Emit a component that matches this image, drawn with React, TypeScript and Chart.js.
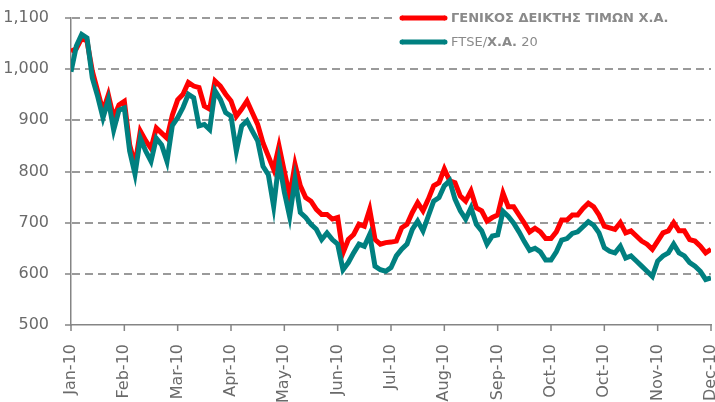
import React, { useEffect, useRef } from "react";
import { Chart, registerables } from "chart.js";

Chart.register(...registerables);

const tickLabels = ["Jan-10", "Feb-10", "Mar-10", "Apr-10", "May-10", "Jun-10", "Jul-10", "Aug-10", "Sep-10", "Oct-10", "Oct-10", "Nov-10", "Dec-10"];
const pointsPerTick = 10;

const generalIndex = [
  1035, 1040, 1060, 1055, 996, 957, 918, 950, 905, 930, 937,
  852, 813, 879, 860, 845, 885, 875, 865, 910, 940,
  951, 974, 967, 964, 928, 922, 977, 967, 951, 938,
  908, 922, 938, 915, 892, 856, 830, 804, 850, 800,
  752, 814, 772, 749, 742, 726, 716, 716, 707, 710,
  641, 667, 677, 697, 693, 726, 667, 658, 661, 662,
  664, 690, 697, 720, 739, 723, 746, 772, 778, 805,
  782, 778, 752, 742, 762, 729, 723, 703, 710, 715,
  758, 731, 731, 715, 699, 682, 689, 682, 669, 669,
  682, 705, 705, 715, 715, 728, 738, 731, 715, 693,
  690, 687, 700, 680, 684, 674, 664, 658, 648, 664,
  680, 684, 700, 684, 684, 667, 664, 654, 641, 648,
];

const ftse20 = [
  995, 1045, 1068, 1061, 983, 947, 905, 940, 881, 920, 924,
  840, 795, 865, 840, 820, 865, 852, 820, 890, 905,
  925, 951, 944, 889, 892, 882, 958, 941, 915, 908,
  840, 889, 899, 879, 860, 810, 794, 732, 820, 760,
  712, 785, 720, 710, 697, 687, 667, 680, 667, 658,
  608, 622, 641, 658, 654, 677, 615, 608, 605, 612,
  635, 648, 658, 687, 703, 684, 713, 742, 749, 772,
  782, 746, 723, 707, 729, 697, 684, 658, 674, 676,
  722, 712, 699, 682, 663, 646, 650, 643, 627, 627,
  643, 666, 669, 679, 682, 692, 702, 695, 680, 651,
  644, 641, 654, 631, 635, 625, 615, 605, 595, 625,
  635, 641, 658, 641, 635, 622, 615, 605, 589, 592,
];

const seriesNames = ["ΓΕΝΙΚΟΣ ΔΕΙΚΤΗΣ ΤΙΜΩΝ Χ.Α.", "FTSE/Χ.Α. 20"];
const RED = "#ff0000";
const TEAL = "#008080";
const LABEL = "#6a6a6a";
const AXIS = "#858585";
const GRID = "#9a9a9a";
const LEGEND_TXT = "#8a8a8a";

const gridPlugin = {
  id: "dashedGrid",
  beforeDatasetsDraw(chart: any) {
    const ctx = chart.ctx as CanvasRenderingContext2D;
    const ys = chart.scales.y;
    const xs = chart.scales.x;
    const area = chart.chartArea;
    ctx.save();
    for (const t of ys.ticks) {
      const py = Math.round(ys.getPixelForValue(t.value));
      if (t.value !== ys.min) {
        ctx.fillStyle = GRID;
        for (let x = area.left + 1; x < area.right; x += 13) {
          const w = Math.min(8, area.right - x);
          ctx.fillRect(x, py - 1, w, 2);
        }
      }
      ctx.fillStyle = AXIS;
      ctx.fillRect(area.left - 6, py - 0.75, 6, 1.5);
    }
    for (const t of xs.ticks) {
      const px = xs.getPixelForValue(t.value);
      ctx.fillStyle = AXIS;
      ctx.fillRect(px - 0.75, area.bottom, 1.5, 6);
    }
    ctx.restore();
  },
};

const legendBoxPlugin = {
  id: "legendBox",
  beforeDatasetsDraw(chart: any) {
    const ctx = chart.ctx as CanvasRenderingContext2D;
    ctx.save();
    ctx.fillStyle = "#ffffff";
    ctx.fillRect(396, 4, 319, 52);
    ctx.restore();
  },
};

const legendPlugin = {
  id: "customLegend",
  afterDraw(chart: any) {
    const ctx = chart.ctx as CanvasRenderingContext2D;
    ctx.save();
    const drawSample = (y: number, color: string) => {
      ctx.fillStyle = color;
      ctx.beginPath();
      ctx.arc(402, y, 2.5, 0, Math.PI * 2);
      ctx.arc(445, y, 2.5, 0, Math.PI * 2);
      ctx.fill();
      ctx.fillRect(402, y - 2.5, 43, 5);
    };
    ctx.textBaseline = "middle";
    drawSample(18, RED);
    ctx.fillStyle = LEGEND_TXT;
    ctx.font = "bold 13px 'DejaVu Sans', sans-serif";
    ctx.fillText(seriesNames[0], 451, 19);
    drawSample(42, TEAL);
    ctx.fillStyle = LEGEND_TXT;
    let x = 451;
    const parts: [string, boolean][] = [["FTSE/", false], ["Χ.Α.", true], [" 20", false]];
    for (const [t, b] of parts) {
      ctx.font = (b ? "bold " : "") + "13px 'DejaVu Sans', sans-serif";
      ctx.fillText(t, x, 43);
      x += ctx.measureText(t).width;
    }
    ctx.restore();
  },
};

export default function App() {
  const ref = useRef<HTMLCanvasElement | null>(null);
  useEffect(() => {
    if (!ref.current) return;
    const toXY = (arr: number[]) => arr.map((v, i) => ({ x: i, y: v }));
    const chart = new Chart(ref.current, {
      type: "line",
      data: {
        datasets: [
          {
            label: seriesNames[0],
            data: toXY(generalIndex),
            borderColor: RED,
            backgroundColor: RED,
            borderWidth: 5,
            pointRadius: 0,
            tension: 0,
            order: 1,
          },
          {
            label: seriesNames[1],
            data: toXY(ftse20),
            borderColor: TEAL,
            backgroundColor: TEAL,
            borderWidth: 5,
            pointRadius: 0,
            tension: 0,
            order: 0,
          },
        ],
      },
      options: {
        animation: false,
        responsive: false,
        devicePixelRatio: 1,
        layout: { padding: { top: 18, right: 4, bottom: 0, left: 0 } },
        plugins: { legend: { display: false }, tooltip: { enabled: false } },
        scales: {
          x: {
            type: "linear",
            min: 0,
            max: (tickLabels.length - 1) * pointsPerTick,
            offset: false,
            afterFit: (s: any) => {
              s.height = 77;
              s.paddingLeft = 0;
              s.paddingRight = 0;
            },
            ticks: {
              stepSize: pointsPerTick,
              autoSkip: false,
              minRotation: 90,
              maxRotation: 90,
              padding: 19,
              color: LABEL,
              font: { family: "'DejaVu Sans', sans-serif", size: 16 },
              callback: (v: any) => tickLabels[Math.round(Number(v) / pointsPerTick)] ?? "",
            },
            grid: { drawOnChartArea: false, drawTicks: false },
            border: { display: true, color: AXIS, width: 1.5 },
          },
          y: {
            min: 500,
            max: 1100,
            afterFit: (s: any) => {
              s.width = 71;
              s.paddingTop = 0;
              s.paddingBottom = 0;
            },
            ticks: {
              stepSize: 100,
              padding: 14,
              color: LABEL,
              font: { family: "'DejaVu Sans', sans-serif", size: 16 },
              callback: (v: any) => Number(v).toLocaleString("en-US"),
            },
            grid: { display: false },
            border: { display: true, color: AXIS, width: 1.5 },
          },
        },
      },
      plugins: [gridPlugin, legendBoxPlugin, legendPlugin],
    });
    return () => chart.destroy();
  }, []);
  return (
    <div style={{ position: "absolute", left: 0, top: 0, width: 715, height: 402, background: "#fff" }}>
      <canvas ref={ref} width={715} height={402} />
    </div>
  );
}
